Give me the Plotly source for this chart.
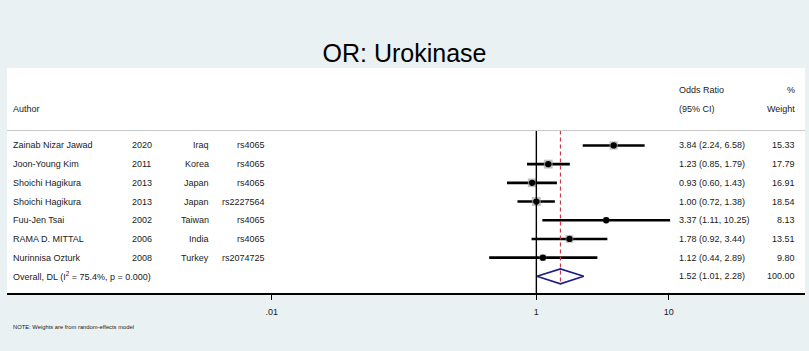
import math
import plotly.graph_objects as go

# ---------------- data ----------------
authors = ["Zainab Nizar Jawad", "Joon-Young Kim", "Shoichi Hagikura", "Shoichi Hagikura",
           "Fuu-Jen Tsai", "RAMA D. MITTAL", "Nurinnisa Ozturk"]
years = [2020, 2011, 2013, 2013, 2002, 2006, 2008]
countries = ["Iraq", "Korea", "Japan", "Japan", "Taiwan", "India", "Turkey"]
snps = ["rs4065", "rs4065", "rs4065", "rs2227564", "rs4065", "rs4065", "rs2074725"]
or_vals = [3.84, 1.23, 0.93, 1.00, 3.37, 1.78, 1.12]
ci_low = [2.24, 0.85, 0.60, 0.72, 1.11, 0.92, 0.44]
ci_high = [6.58, 1.79, 1.43, 1.38, 10.25, 3.44, 2.89]
weights = [15.33, 17.79, 16.91, 18.54, 8.13, 13.51, 9.80]

pooled_or = 1.52
pooled_low = 1.01
pooled_high = 2.28
pooled_weight = 100.00
i2 = 75.4
p_val = 0.000

tick_vals = [0.01, 1, 10]
tick_text = [".01", "1", "10"]

title_text = "OR: Urokinase"
note_text = "NOTE: Weights are from random-effects model"

# ---------------- style ----------------
BG = "#E9F1F3"
FONT = "Arial, Liberation Sans, sans-serif"
TXT = "#1a1a1a"
NAVY = "#1c1c8a"
RED = "#cc3340"

n = len(authors)
rows = list(range(n))
overall_row = n

fig = go.Figure()

# CI lines
xs, ys = [], []
for i in rows:
    xs += [ci_low[i], ci_high[i], None]
    ys += [i, i, None]
fig.add_trace(go.Scatter(x=xs, y=ys, mode="lines",
                         line=dict(color="black", width=2.6), hoverinfo="skip"))

# weight boxes
fig.add_trace(go.Scatter(x=or_vals, y=rows, mode="markers",
                         marker=dict(symbol="square", color="#a8a8a8",
                                     size=[2.1 * math.sqrt(w) for w in weights],
                                     line=dict(width=0)), hoverinfo="skip"))
# point estimates
fig.add_trace(go.Scatter(x=or_vals, y=rows, mode="markers",
                         marker=dict(symbol="circle", color="black", size=6.3),
                         hoverinfo="skip"))

# null line at OR = 1
fig.add_trace(go.Scatter(x=[1, 1], y=[-0.8, overall_row + 0.9], mode="lines",
                         line=dict(color="black", width=1.4), hoverinfo="skip"))
# pooled estimate dashed line
fig.add_trace(go.Scatter(x=[pooled_or, pooled_or], y=[-0.8, overall_row + 0.45], mode="lines",
                         line=dict(color=RED, width=1.1, dash="4px,3px"), hoverinfo="skip"))

# pooled diamond
h = 0.4
fig.add_trace(go.Scatter(x=[pooled_low, pooled_or, pooled_high, pooled_or, pooled_low],
                         y=[overall_row, overall_row - h, overall_row, overall_row + h, overall_row],
                         mode="lines", line=dict(color=NAVY, width=1.6), hoverinfo="skip"))

# ---------------- text columns ----------------
W = 798.0
def px(x):
    return (x - 7) / W

ann = []
def add(text, x, y, anchor, size=9):
    ann.append(dict(text=text, x=x, y=y, xref="paper", yref="y", xanchor=anchor,
                    yanchor="middle", showarrow=False,
                    font=dict(family=FONT, size=size, color=TXT)))

for i in rows:
    add(authors[i], px(11), i, "left")
    add(str(years[i]), px(130), i, "left")
    add(countries[i], px(211), i, "right")
    add(snps[i], px(267), i, "right")
    add(f"{or_vals[i]:.2f} ({ci_low[i]:.2f}, {ci_high[i]:.2f})", px(677), i, "left")
    add(f"{weights[i]:.2f}", px(797), i, "right")

add(f"Overall, DL (I<sup>2</sup> = {i2:.1f}%, p = {p_val:.3f})", px(11), overall_row, "left")
add(f"{pooled_or:.2f} ({pooled_low:.2f}, {pooled_high:.2f})", px(677), overall_row, "left")
add(f"{pooled_weight:.2f}", px(797), overall_row, "right")

# header
add("Author", px(11), -1.95, "left")
add("Odds Ratio", px(677), -2.97, "left")
add("(95% CI)", px(677), -1.95, "left")
add("%", px(797), -2.97, "right")
add("Weight", px(797), -1.95, "right")

# note
ann.append(dict(text=note_text, x=px(11), y=-0.151, xref="paper", yref="paper",
                xanchor="left", yanchor="middle", showarrow=False,
                font=dict(family=FONT, size=5.8, color=TXT)))

# separator under header
shapes = [dict(type="line", xref="paper", yref="y", x0=0, x1=1, y0=-0.8, y1=-0.8,
               line=dict(color="#c8c8c8", width=1))]

fig.update_layout(
    width=809, height=351, autosize=False,
    paper_bgcolor=BG, plot_bgcolor="white",
    margin=dict(l=7, r=4, t=68, b=58, pad=0),
    showlegend=False,
    title=dict(text=title_text, x=0.5, xanchor="center", y=1 - 53 / 351, yanchor="middle",
               font=dict(family=FONT, size=25, color="black")),
    annotations=ann, shapes=shapes,
    xaxis=dict(type="log", range=[-4.0, 2.03], tickvals=tick_vals, ticktext=tick_text,
               ticks="outside", ticklen=5, tickwidth=1.4, tickcolor="black",
               showline=True, linecolor="black", linewidth=1.5,
               showgrid=False, zeroline=False,
               tickfont=dict(family=FONT, size=9, color=TXT), ticklabelstandoff=4),
    yaxis=dict(range=[7.89, -4.14], visible=False, showgrid=False, zeroline=False),
)

fig.write_html("out.html", config={"displayModeBar": False},
               post_script="document.body.style.margin='0';document.body.style.padding='0';")
